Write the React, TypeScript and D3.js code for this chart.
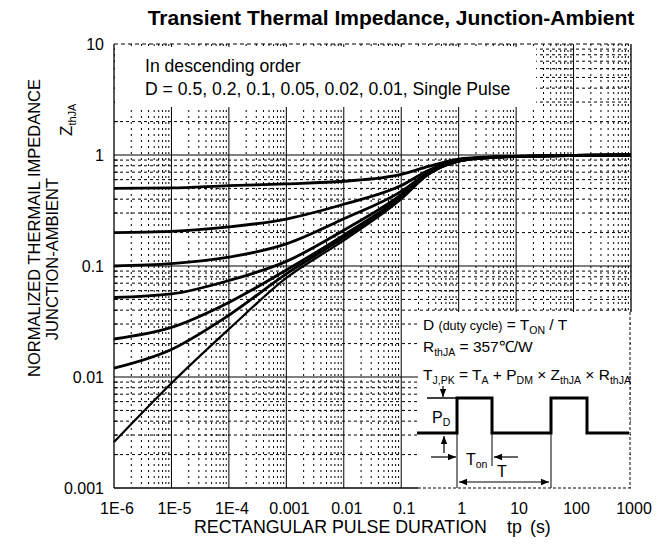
import React from "react";
import * as d3 from "d3";

const durations = [1e-6, 1e-5, 1e-4, 1e-3, 1e-2, 1e-1, 0.3, 1, 3, 10, 100, 1000];

const dutyLabels = ["0.5", "0.2", "0.1", "0.05", "0.02", "0.01", "Single Pulse"];
const zD05 = [0.5, 0.505, 0.53, 0.55, 0.58, 0.67, 0.79, 0.92, 0.955, 0.97, 0.99, 1.0];
const zD02 = [0.2, 0.205, 0.225, 0.265, 0.36, 0.53, 0.73, 0.9, 0.95, 0.97, 0.99, 1.0];
const zD01 = [0.1, 0.105, 0.12, 0.158, 0.266, 0.47, 0.7, 0.89, 0.95, 0.97, 0.99, 1.0];
const zD005 = [0.052, 0.056, 0.074, 0.11, 0.21, 0.44, 0.69, 0.885, 0.945, 0.97, 0.99, 1.0];
const zD002 = [0.022, 0.028, 0.047, 0.092, 0.19, 0.42, 0.68, 0.88, 0.945, 0.97, 0.99, 1.0];
const zD001 = [0.012, 0.0177, 0.036, 0.085, 0.18, 0.41, 0.675, 0.88, 0.94, 0.97, 0.99, 1.0];
const zSingle = [0.0026, 0.0088, 0.027, 0.078, 0.17, 0.4, 0.67, 0.875, 0.94, 0.97, 0.99, 1.0];

const xTickValues = [1e-6, 1e-5, 1e-4, 1e-3, 1e-2, 1e-1, 1, 10, 100, 1000];
const xTickLabels = ["1E-6", "1E-5", "1E-4", "0.001", "0.01", "0.1", "1", "10", "100", "1000"];
const yTickValues = [0.001, 0.01, 0.1, 1, 10];
const yTickLabels = ["0.001", "0.01", "0.1", "1", "10"];

const FONT = "'Liberation Sans', Arial, Helvetica, sans-serif";

export default function App() {
  const width = 668;
  const height = 550;
  const left = 114, right = 631, top = 44, bottom = 488;

  const x = d3.scaleLog().domain([1e-6, 1000]).range([left, right]);
  const y = d3.scaleLog().domain([0.001, 10]).range([bottom, top]);

  const series = [zD05, zD02, zD01, zD005, zD002, zD001, zSingle];

  const line = d3
    .line<[number, number]>()
    .x((d) => x(d[0]))
    .y((d) => y(d[1]))
    .curve(d3.curveMonotoneX);

  // minor grid positions
  const minorX: number[] = [];
  for (let e = -6; e < 3; e++) for (let k = 2; k <= 9; k++) minorX.push(k * Math.pow(10, e));
  const minorY: number[] = [];
  for (let e = -3; e < 1; e++) for (let k = 2; k <= 9; k++) minorY.push(k * Math.pow(10, e));

  // legend box and note box
  const legBox = { x0: 115, y0: 47, x1: 536, y1: 107 };
  const note = { x0: 418, y0: 312, x1: 629, y1: 487 };

  // pulse sketch inside note box
  const base = 433, high = 398;
  const r1 = 457, f1 = 492, r2 = 551, f2 = 587;
  const pulsePath = `M${note.x0 - 1},${base} H${r1} V${high} H${f1} V${base} H${r2} V${high} H${f2} V${base} H${note.x1}`;

  return (
    <svg
      width={width}
      height={height}
      style={{ position: "absolute", left: 0, top: 0, background: "#fff" }}
      fontFamily={FONT}
    >
      <defs>
        <marker id="ah" viewBox="0 0 10 10" refX="10" refY="5" markerWidth="7" markerHeight="7" orient="auto-start-reverse">
          <path d="M0,1 L10,5 L0,9 z" fill="#000" />
        </marker>
      </defs>
      <rect width={width} height={height} fill="#fff" />

      <text x={391} y={25} textAnchor="middle" fontSize={21} fontWeight="bold">
        Transient Thermal Impedance, Junction-Ambient
      </text>

      {/* minor grid */}
      <g stroke="#000" strokeWidth={1}>
        {minorX.map((v, i) => (
          <line key={"mx" + i} x1={x(v)} x2={x(v)} y1={top} y2={bottom} strokeDasharray="2,4" />
        ))}
        {minorY.map((v, i) => (
          <line key={"my" + i} x1={left} x2={right} y1={y(v)} y2={y(v)} strokeDasharray="3,3" />
        ))}
        {xTickValues.slice(1, -1).map((v, i) => (
          <line key={"Mx" + i} x1={x(v)} x2={x(v)} y1={top} y2={bottom} />
        ))}
        {yTickValues.slice(1, -1).map((v, i) => (
          <line key={"My" + i} x1={left} x2={right} y1={y(v)} y2={y(v)} />
        ))}
        <line x1={left} x2={right} y1={top} y2={top} strokeDasharray="4,3" />
        {minorY.map((v, i) => (
          <line key={"tk" + i} x1={left} x2={left + 4} y1={y(v)} y2={y(v)} />
        ))}
      </g>

      {/* white boxes */}
      <rect x={legBox.x0} y={legBox.y0} width={legBox.x1 - legBox.x0} height={legBox.y1 - legBox.y0} fill="#fff" />
      <rect x={note.x0} y={note.y0} width={note.x1 - note.x0} height={note.y1 - note.y0 + 3} fill="#fff" />

      {/* frame */}
      <g stroke="#000" strokeWidth={1.3} fill="none">
        <line x1={left} x2={left} y1={top} y2={bottom} />
        <line x1={left} x2={note.x0} y1={bottom} y2={bottom} />
        <line x1={note.x0} x2={right} y1={bottom} y2={bottom} strokeDasharray="3,2" strokeWidth={1} />
        <line x1={right} x2={right} y1={top} y2={note.y0} />
        <line x1={right - 1} x2={right - 1} y1={note.y0} y2={bottom} strokeDasharray="3,2" strokeWidth={1} />
      </g>

      {/* curves */}
      <g fill="none" stroke="#000" strokeLinejoin="round">
        {series.map((s, i) => (
          <path
            key={dutyLabels[i]}
            d={line(durations.map((t, j) => [t, s[j]] as [number, number])) || ""}
            strokeWidth={i === series.length - 1 ? 2.2 : 2.8}
          />
        ))}
      </g>

      {/* legend text */}
      <g fontSize={17.6}>
        <text x={145} y={72}>In descending order</text>
        <text x={145} y={95}>D = {dutyLabels.join(", ")}</text>
      </g>

      {/* ticks labels */}
      <g fontSize={16}>
        {xTickValues.map((v, i) => (
          <text key={"xl" + i} x={x(v) + 3} y={514} textAnchor="middle">
            {xTickLabels[i]}
          </text>
        ))}
        {yTickValues.map((v, i) => (
          <text key={"yl" + i} x={104} y={y(v) + 5.5} textAnchor="end">
            {yTickLabels[i]}
          </text>
        ))}
      </g>

      {/* axis titles */}
      <g fontSize={17.8}>
        <text x={194} y={533}>RECTANGULAR PULSE DURATION</text>
        <text x={507} y={533}>tp</text>
        <text x={530} y={533}>(s)</text>
      </g>
      <text transform="translate(40,228) rotate(-90)" textAnchor="middle" fontSize={16.5}>
        NORMALIZED THERMAIL IMPEDANCE
      </text>
      <text transform="translate(58,259) rotate(-90)" textAnchor="middle" fontSize={16.5}>
        JUNCTION-AMBIENT
      </text>
      <text transform="translate(72,136) rotate(-90)" fontSize={17}>
        Z<tspan fontSize={11} dy={4}>thJA</tspan>
      </text>

      {/* note text */}
      <g fontSize={15.5}>
        <text x={423} y={330}>
          D <tspan fontSize={12.5}>(duty cycle)</tspan> = T<tspan fontSize={10.5} dy={4}>ON</tspan>
          <tspan dy={-4}> / T</tspan>
        </text>
        <text x={423} y={352}>
          R<tspan fontSize={10.5} dy={4}>thJA</tspan>
          <tspan dy={-4}> = 357℃/W</tspan>
        </text>
        <text x={423} y={380}>
          T<tspan fontSize={10.5} dy={4}>J,PK</tspan>
          <tspan dy={-4}> = T</tspan>
          <tspan fontSize={10.5} dy={4}>A</tspan>
          <tspan dy={-4}> + P</tspan>
          <tspan fontSize={10.5} dy={4}>DM</tspan>
          <tspan dy={-4}> × Z</tspan>
          <tspan fontSize={10.5} dy={4}>thJA</tspan>
          <tspan dy={-4}> × R</tspan>
          <tspan fontSize={10.5} dy={4}>thJA</tspan>
        </text>
      </g>

      {/* pulse sketch */}
      <g stroke="#000" fill="none">
        <path d={pulsePath} strokeWidth={3} />
        <line x1={427} x2={r1} y1={high} y2={high} strokeWidth={1.5} />
        <line x1={r1} x2={r1} y1={base} y2={bottom} strokeWidth={1} />
        <line x1={f1} x2={f1} y1={base} y2={466} strokeWidth={1} />
        <line x1={r2} x2={r2} y1={base} y2={bottom} strokeWidth={1} />
        <line x1={443} x2={443} y1={386} y2={high - 1} strokeWidth={1.2} markerEnd="url(#ah)" />
        <line x1={444} x2={444} y1={453} y2={base + 3} strokeWidth={1.2} markerEnd="url(#ah)" />
        <line x1={431} x2={r1 - 1} y1={457} y2={457} strokeWidth={1.2} markerEnd="url(#ah)" />
        <line x1={518} x2={f1 + 2} y1={457} y2={457} strokeWidth={1.2} markerEnd="url(#ah)" />
        <line x1={r1 + 2} x2={r2 - 2} y1={482} y2={482} strokeWidth={1.2} markerStart="url(#ah)" markerEnd="url(#ah)" />
      </g>
      <g fontSize={16}>
        <text x={432} y={423}>
          P<tspan fontSize={10.5} dy={3}>D</tspan>
        </text>
        <text x={466} y={465}>
          T<tspan fontSize={10.5} dy={3}>on</tspan>
        </text>
        <text x={502} y={477} textAnchor="middle">T</text>
      </g>
    </svg>
  );
}
